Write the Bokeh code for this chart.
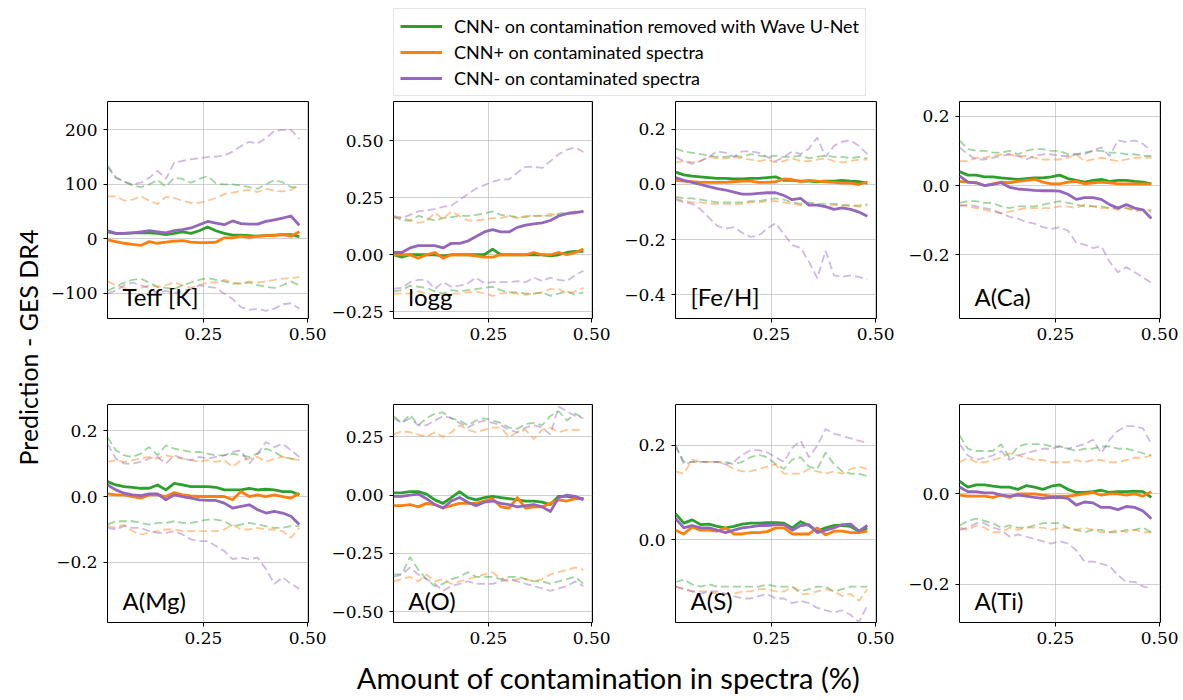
import math
from bokeh.plotting import figure
from bokeh.layouts import column, row
from bokeh.models import (Range1d, FixedTicker, CustomJSTickFormatter, Label,
                          Legend, LegendItem)
from bokeh.core.properties import value
from bokeh.embed import file_html
from bokeh.resources import INLINE

# ---------------- data ----------------
X = [0.02, 0.04, 0.06, 0.08, 0.10, 0.12, 0.14, 0.16, 0.18, 0.20, 0.22, 0.24,
     0.26, 0.28, 0.30, 0.32, 0.34, 0.36, 0.38, 0.40, 0.42, 0.44, 0.46, 0.48]

PANEL_NAMES = ["Teff [K]", "logg", "[Fe/H]", "A(Ca)", "A(Mg)", "A(O)", "A(S)", "A(Ti)"]
LEGEND_LABELS = ["CNN- on contamination removed with Wave U-Net",
                 "CNN+ on contaminated spectra",
                 "CNN- on contaminated spectra"]

# Teff
TEFF_G = [13,10,10,11,11,11,10,8,10,13,10,15,22,15,10,7,7,6,5,6,7,8,8,4]
TEFF_O = [-2,-5,-8,-10,-12,-5,-8,-6,-4,-3,-6,-7,-7,-6,2,2,5,3,5,6,6,8,5,13]
TEFF_P = [15,10,10,11,13,15,13,11,15,17,20,26,32,29,26,33,28,27,27,32,35,38,42,25]
TEFF_G_HI = [132,112,105,98,95,100,108,96,112,110,103,110,115,102,100,100,98,95,92,100,108,104,95,95]
TEFF_O_HI = [78,78,70,72,78,70,64,77,75,70,66,66,70,75,82,85,88,90,86,92,88,87,90,98]
TEFF_P_HI = [135,113,105,100,103,112,125,110,140,143,146,148,150,151,153,160,170,178,175,185,198,200,200,183]
TEFF_G_LO = [-95,-88,-80,-75,-73,-80,-88,-90,-92,-85,-80,-75,-72,-75,-78,-82,-82,-80,-85,-88,-90,-85,-78,-85]
TEFF_O_LO = [-78,-85,-90,-95,-90,-85,-88,-85,-80,-85,-90,-85,-80,-80,-75,-80,-82,-78,-80,-78,-75,-73,-72,-70]
TEFF_P_LO = [-100,-95,-85,-80,-85,-90,-100,-95,-100,-95,-92,-85,-88,-90,-100,-110,-125,-130,-128,-132,-128,-120,-118,-128]

# logg
LOGG_G = [0.0,-0.01,0.0,0.0,0.0,0.0,-0.005,0.0,0.0,0.0,0.0,0.0,0.025,0.0,0.0,0.0,0.0,0.0,0.0,-0.005,0.0,0.01,0.015,0.015]
LOGG_O = [0.0,0.0,0.0,-0.015,0.0,0.01,-0.015,0.0,0.0,0.0,-0.005,-0.01,-0.01,0.0,0.0,0.0,0.0,0.01,0.0,0.0,0.01,0.0,0.01,0.025]
LOGG_P = [0.01,0.01,0.03,0.04,0.04,0.04,0.03,0.05,0.05,0.06,0.08,0.10,0.11,0.10,0.10,0.12,0.13,0.135,0.14,0.15,0.17,0.18,0.185,0.19]
LOGG_G_HI = [0.17,0.15,0.15,0.17,0.16,0.15,0.16,0.165,0.17,0.17,0.175,0.18,0.19,0.175,0.17,0.165,0.165,0.17,0.17,0.17,0.18,0.185,0.19,0.19]
LOGG_O_HI = [0.16,0.165,0.15,0.14,0.145,0.185,0.155,0.19,0.17,0.15,0.15,0.155,0.16,0.16,0.17,0.16,0.17,0.17,0.17,0.18,0.17,0.18,0.18,0.19]
LOGG_P_HI = [0.17,0.16,0.175,0.19,0.195,0.20,0.21,0.215,0.24,0.265,0.29,0.305,0.32,0.33,0.33,0.36,0.385,0.385,0.38,0.41,0.44,0.46,0.47,0.45]
LOGG_G_LO = [-0.16,-0.155,-0.135,-0.14,-0.145,-0.16,-0.17,-0.155,-0.16,-0.155,-0.15,-0.145,-0.14,-0.155,-0.165,-0.165,-0.17,-0.17,-0.165,-0.18,-0.17,-0.16,-0.175,-0.165]
LOGG_O_LO = [-0.17,-0.17,-0.17,-0.16,-0.17,-0.18,-0.175,-0.17,-0.17,-0.165,-0.16,-0.17,-0.18,-0.17,-0.165,-0.17,-0.175,-0.17,-0.165,-0.15,-0.15,-0.17,-0.16,-0.145]
LOGG_P_LO = [-0.148,-0.145,-0.12,-0.11,-0.11,-0.15,-0.12,-0.14,-0.135,-0.125,-0.10,-0.125,-0.12,-0.12,-0.12,-0.115,-0.12,-0.10,-0.115,-0.10,-0.11,-0.115,-0.09,-0.07]

# [Fe/H]
FEH_G = [0.045,0.035,0.03,0.028,0.025,0.022,0.022,0.02,0.02,0.022,0.022,0.025,0.028,0.015,0.015,0.012,0.012,0.01,0.012,0.012,0.015,0.012,0.01,0.005]
FEH_O = [0.015,0.012,0.01,0.008,0.008,0.008,0.008,0.01,0.012,0.012,0.008,0.008,0.01,0.02,0.018,0.01,0.015,0.012,0.01,0.008,0.005,0.005,0.0,0.01]
FEH_P = [0.025,0.015,0.008,0.0,-0.008,-0.015,-0.02,-0.028,-0.035,-0.035,-0.032,-0.03,-0.03,-0.04,-0.055,-0.05,-0.075,-0.075,-0.08,-0.09,-0.085,-0.09,-0.1,-0.115]
FEH_G_HI = [0.13,0.12,0.115,0.11,0.105,0.10,0.10,0.105,0.10,0.11,0.105,0.10,0.105,0.10,0.10,0.105,0.095,0.10,0.105,0.10,0.10,0.095,0.10,0.095]
FEH_O_HI = [0.08,0.085,0.08,0.085,0.10,0.095,0.095,0.10,0.095,0.09,0.085,0.09,0.08,0.085,0.095,0.085,0.085,0.09,0.095,0.085,0.08,0.085,0.09,0.09]
FEH_P_HI = [0.10,0.085,0.075,0.085,0.10,0.12,0.115,0.10,0.12,0.12,0.115,0.10,0.085,0.10,0.12,0.11,0.13,0.17,0.10,0.14,0.155,0.16,0.14,0.11]
FEH_G_LO = [-0.045,-0.05,-0.05,-0.055,-0.06,-0.065,-0.065,-0.065,-0.065,-0.06,-0.06,-0.055,-0.05,-0.055,-0.065,-0.07,-0.065,-0.07,-0.07,-0.07,-0.075,-0.075,-0.08,-0.075]
FEH_O_LO = [-0.05,-0.06,-0.065,-0.065,-0.07,-0.07,-0.07,-0.07,-0.07,-0.065,-0.065,-0.06,-0.06,-0.065,-0.07,-0.075,-0.07,-0.075,-0.08,-0.075,-0.075,-0.08,-0.075,-0.07]
FEH_P_LO = [-0.055,-0.065,-0.07,-0.09,-0.12,-0.15,-0.16,-0.155,-0.175,-0.19,-0.185,-0.16,-0.14,-0.18,-0.22,-0.23,-0.28,-0.34,-0.24,-0.33,-0.335,-0.33,-0.335,-0.345]

# A(Ca)
CA_G = [0.04,0.03,0.03,0.025,0.025,0.022,0.02,0.018,0.02,0.022,0.022,0.025,0.03,0.02,0.015,0.01,0.015,0.018,0.012,0.015,0.015,0.012,0.01,0.005]
CA_O = [0.012,0.01,0.008,0.0,0.005,0.01,0.008,0.012,0.015,0.018,0.01,0.005,0.005,0.01,0.012,0.005,0.008,0.01,0.008,0.005,0.005,0.005,0.005,0.005]
CA_P = [0.028,0.01,0.008,0.0,0.003,0.008,-0.005,-0.01,-0.012,-0.014,-0.015,-0.015,-0.016,-0.025,-0.04,-0.035,-0.035,-0.04,-0.055,-0.065,-0.055,-0.065,-0.07,-0.095]
CA_G_HI = [0.13,0.105,0.10,0.10,0.095,0.095,0.10,0.09,0.10,0.105,0.105,0.10,0.10,0.09,0.09,0.095,0.10,0.10,0.095,0.095,0.09,0.09,0.085,0.085]
CA_O_HI = [0.07,0.07,0.08,0.08,0.085,0.09,0.09,0.085,0.085,0.08,0.075,0.075,0.075,0.08,0.09,0.07,0.075,0.08,0.075,0.07,0.075,0.08,0.08,0.08]
CA_P_HI = [0.11,0.09,0.075,0.075,0.08,0.085,0.09,0.085,0.075,0.085,0.09,0.09,0.085,0.085,0.09,0.09,0.10,0.11,0.085,0.13,0.125,0.13,0.12,0.10]
CA_G_LO = [-0.05,-0.045,-0.045,-0.05,-0.05,-0.06,-0.065,-0.06,-0.06,-0.06,-0.055,-0.05,-0.045,-0.05,-0.055,-0.06,-0.06,-0.06,-0.065,-0.065,-0.065,-0.07,-0.07,-0.075]
CA_O_LO = [-0.055,-0.06,-0.065,-0.07,-0.075,-0.08,-0.075,-0.07,-0.065,-0.065,-0.065,-0.065,-0.06,-0.06,-0.065,-0.055,-0.06,-0.065,-0.065,-0.07,-0.065,-0.075,-0.07,-0.07]
CA_P_LO = [-0.06,-0.055,-0.06,-0.065,-0.07,-0.08,-0.09,-0.095,-0.105,-0.11,-0.12,-0.125,-0.12,-0.13,-0.165,-0.17,-0.18,-0.175,-0.22,-0.25,-0.235,-0.25,-0.265,-0.28]

# A(Mg)
MG_G = [0.045,0.035,0.03,0.028,0.025,0.025,0.035,0.02,0.04,0.035,0.03,0.03,0.03,0.028,0.02,0.02,0.02,0.025,0.02,0.022,0.02,0.015,0.015,0.005]
MG_O = [0.008,0.005,0.005,0.0,-0.005,0.005,0.005,0.0,0.012,0.005,0.002,0.0,0.0,0.0,0.0,-0.01,0.015,0.0,0.005,0.0,0.005,0.0,-0.005,0.01]
MG_P = [0.035,0.02,0.01,0.005,0.003,0.008,0.008,-0.01,0.005,0.0,-0.005,-0.01,-0.012,-0.012,-0.02,-0.035,-0.03,-0.025,-0.04,-0.05,-0.045,-0.05,-0.06,-0.085]
MG_G_HI = [0.18,0.14,0.125,0.12,0.13,0.15,0.125,0.155,0.145,0.14,0.135,0.135,0.13,0.125,0.125,0.13,0.125,0.12,0.13,0.145,0.135,0.12,0.115,0.11]
MG_O_HI = [0.105,0.11,0.105,0.11,0.115,0.12,0.115,0.125,0.12,0.115,0.11,0.105,0.11,0.105,0.11,0.09,0.11,0.115,0.12,0.105,0.115,0.12,0.115,0.11]
MG_P_HI = [0.16,0.115,0.10,0.10,0.105,0.115,0.12,0.10,0.125,0.115,0.11,0.12,0.115,0.12,0.125,0.135,0.14,0.10,0.13,0.165,0.15,0.16,0.14,0.12]
MG_G_LO = [-0.085,-0.075,-0.075,-0.075,-0.08,-0.085,-0.08,-0.08,-0.075,-0.08,-0.08,-0.075,-0.07,-0.07,-0.075,-0.09,-0.085,-0.08,-0.085,-0.09,-0.095,-0.095,-0.09,-0.09]
MG_O_LO = [-0.09,-0.095,-0.085,-0.105,-0.115,-0.11,-0.105,-0.10,-0.10,-0.105,-0.105,-0.105,-0.105,-0.105,-0.10,-0.085,-0.10,-0.10,-0.095,-0.10,-0.10,-0.105,-0.125,-0.095]
MG_P_LO = [-0.095,-0.10,-0.09,-0.095,-0.095,-0.105,-0.11,-0.11,-0.105,-0.115,-0.13,-0.135,-0.135,-0.15,-0.165,-0.19,-0.185,-0.19,-0.185,-0.22,-0.265,-0.245,-0.265,-0.28]

# A(O)
O_G = [0.01,0.01,0.015,0.015,0.005,-0.02,-0.035,-0.01,0.015,-0.01,-0.02,-0.01,-0.005,-0.01,-0.015,-0.02,-0.025,-0.025,-0.03,-0.04,-0.005,-0.005,-0.01,-0.015]
O_O = [-0.045,-0.045,-0.04,-0.05,-0.035,-0.04,-0.055,-0.045,-0.035,-0.035,-0.035,-0.025,-0.015,-0.05,-0.055,-0.01,-0.055,-0.05,-0.05,-0.035,-0.02,-0.025,-0.015,-0.015]
O_P = [-0.005,-0.005,0.0,0.005,-0.015,-0.04,-0.055,-0.025,-0.01,-0.03,-0.045,-0.03,-0.025,-0.035,-0.04,-0.05,-0.045,-0.04,-0.05,-0.07,-0.01,0.0,-0.005,-0.02]
O_G_HI = [0.34,0.31,0.345,0.30,0.33,0.35,0.355,0.33,0.32,0.30,0.32,0.33,0.32,0.31,0.29,0.285,0.305,0.31,0.30,0.34,0.36,0.32,0.35,0.33]
O_O_HI = [0.26,0.275,0.27,0.26,0.25,0.27,0.25,0.27,0.30,0.28,0.27,0.28,0.29,0.29,0.25,0.27,0.28,0.24,0.28,0.29,0.27,0.28,0.28,0.28]
O_P_HI = [0.33,0.31,0.33,0.30,0.30,0.32,0.34,0.33,0.31,0.29,0.31,0.32,0.31,0.30,0.28,0.27,0.29,0.30,0.29,0.26,0.38,0.36,0.34,0.33]
O_G_LO = [-0.34,-0.34,-0.265,-0.32,-0.36,-0.39,-0.38,-0.36,-0.35,-0.33,-0.35,-0.35,-0.35,-0.36,-0.35,-0.35,-0.36,-0.37,-0.37,-0.38,-0.37,-0.36,-0.35,-0.38]
O_O_LO = [-0.37,-0.36,-0.35,-0.37,-0.34,-0.37,-0.36,-0.38,-0.37,-0.36,-0.35,-0.34,-0.33,-0.36,-0.37,-0.36,-0.36,-0.37,-0.36,-0.34,-0.33,-0.32,-0.31,-0.32]
O_P_LO = [-0.35,-0.34,-0.31,-0.34,-0.36,-0.38,-0.41,-0.39,-0.38,-0.37,-0.38,-0.38,-0.38,-0.37,-0.36,-0.37,-0.38,-0.39,-0.40,-0.41,-0.40,-0.39,-0.37,-0.39]

# A(S)
S_G = [0.055,0.035,0.042,0.032,0.033,0.028,0.025,0.028,0.033,0.035,0.035,0.036,0.036,0.035,0.025,0.038,0.03,0.018,0.025,0.03,0.03,0.028,0.018,0.025]
S_O = [0.02,0.012,0.027,0.02,0.02,0.018,0.025,0.012,0.012,0.015,0.015,0.017,0.025,0.025,0.012,0.012,0.012,0.025,0.01,0.018,0.018,0.015,0.015,0.018]
S_P = [0.045,0.025,0.03,0.025,0.025,0.02,0.015,0.02,0.025,0.027,0.03,0.03,0.032,0.032,0.02,0.03,0.032,0.015,0.02,0.025,0.032,0.033,0.018,0.03]
S_G_HI = [0.20,0.165,0.165,0.165,0.165,0.165,0.165,0.16,0.165,0.175,0.18,0.175,0.16,0.15,0.17,0.175,0.155,0.15,0.185,0.16,0.145,0.14,0.14,0.135]
S_O_HI = [0.145,0.14,0.17,0.165,0.165,0.165,0.16,0.15,0.145,0.145,0.15,0.155,0.16,0.14,0.14,0.14,0.15,0.145,0.14,0.145,0.14,0.15,0.155,0.15]
S_P_HI = [0.20,0.16,0.165,0.165,0.165,0.165,0.16,0.165,0.18,0.19,0.19,0.185,0.175,0.165,0.195,0.21,0.175,0.20,0.235,0.225,0.22,0.215,0.21,0.205]
S_G_LO = [-0.09,-0.085,-0.095,-0.10,-0.095,-0.10,-0.10,-0.10,-0.10,-0.10,-0.10,-0.095,-0.10,-0.10,-0.10,-0.11,-0.105,-0.10,-0.10,-0.11,-0.105,-0.10,-0.10,-0.10]
S_O_LO = [-0.10,-0.105,-0.11,-0.11,-0.11,-0.115,-0.115,-0.115,-0.11,-0.11,-0.105,-0.105,-0.11,-0.11,-0.10,-0.115,-0.115,-0.11,-0.105,-0.11,-0.12,-0.115,-0.13,-0.105]
S_P_LO = [-0.10,-0.105,-0.11,-0.115,-0.11,-0.11,-0.115,-0.12,-0.125,-0.125,-0.12,-0.115,-0.125,-0.125,-0.135,-0.13,-0.135,-0.145,-0.15,-0.155,-0.15,-0.16,-0.175,-0.14]

# A(Ti)
TI_G = [0.028,0.015,0.02,0.02,0.017,0.015,0.015,0.01,0.018,0.015,0.01,0.017,0.02,0.01,0.003,0.003,0.005,0.008,0.003,0.005,0.005,0.006,0.005,-0.008]
TI_O = [-0.003,-0.005,-0.005,-0.005,-0.008,-0.003,-0.008,0.0,0.0,0.0,-0.003,-0.005,-0.005,-0.005,-0.003,0.0,0.003,-0.003,0.0,0.0,-0.003,0.0,-0.005,0.005]
TI_P = [0.015,0.005,0.005,0.002,0.002,-0.003,-0.005,-0.003,-0.005,-0.008,-0.01,-0.008,-0.008,-0.01,-0.025,-0.018,-0.02,-0.03,-0.03,-0.035,-0.028,-0.03,-0.038,-0.055]
TI_G_HI = [0.13,0.10,0.095,0.095,0.095,0.11,0.08,0.105,0.11,0.11,0.11,0.105,0.105,0.10,0.095,0.10,0.10,0.105,0.105,0.10,0.10,0.095,0.09,0.085]
TI_O_HI = [0.07,0.08,0.07,0.07,0.075,0.08,0.09,0.085,0.08,0.075,0.075,0.07,0.07,0.07,0.075,0.07,0.075,0.075,0.07,0.07,0.075,0.08,0.08,0.085]
TI_P_HI = [0.11,0.085,0.075,0.08,0.085,0.095,0.075,0.085,0.09,0.095,0.10,0.10,0.105,0.10,0.105,0.11,0.12,0.09,0.12,0.14,0.15,0.15,0.145,0.11]
TI_G_LO = [-0.07,-0.06,-0.055,-0.06,-0.065,-0.075,-0.07,-0.075,-0.075,-0.07,-0.065,-0.065,-0.065,-0.075,-0.08,-0.085,-0.08,-0.08,-0.085,-0.085,-0.08,-0.08,-0.075,-0.085]
TI_O_LO = [-0.075,-0.08,-0.07,-0.075,-0.085,-0.085,-0.075,-0.08,-0.075,-0.075,-0.075,-0.08,-0.075,-0.075,-0.08,-0.075,-0.08,-0.085,-0.085,-0.08,-0.085,-0.08,-0.085,-0.085]
TI_P_LO = [-0.08,-0.075,-0.065,-0.065,-0.075,-0.08,-0.095,-0.09,-0.095,-0.10,-0.105,-0.11,-0.105,-0.11,-0.125,-0.15,-0.15,-0.155,-0.16,-0.18,-0.195,-0.195,-0.205,-0.21]

# axis settings per panel
Y_LIMITS = [(-146, 252), (-0.279, 0.671), (-0.486, 0.301), (-0.383, 0.242),
            (-0.382, 0.279), (-0.546, 0.389), (-0.176, 0.287), (-0.285, 0.198)]
Y_TICKS = [[-100, 0, 100, 200], [-0.25, 0, 0.25, 0.5], [-0.4, -0.2, 0, 0.2], [-0.2, 0, 0.2],
           [-0.2, 0, 0.2], [-0.5, -0.25, 0, 0.25], [0, 0.2], [-0.2, 0]]
Y_DECIMALS = [0, 2, 1, 1, 1, 2, 1, 1]
X_TICKS = [0.25, 0.5]

PANELS = [
    (TEFF_G, TEFF_O, TEFF_P, TEFF_G_HI, TEFF_O_HI, TEFF_P_HI, TEFF_G_LO, TEFF_O_LO, TEFF_P_LO),
    (LOGG_G, LOGG_O, LOGG_P, LOGG_G_HI, LOGG_O_HI, LOGG_P_HI, LOGG_G_LO, LOGG_O_LO, LOGG_P_LO),
    (FEH_G, FEH_O, FEH_P, FEH_G_HI, FEH_O_HI, FEH_P_HI, FEH_G_LO, FEH_O_LO, FEH_P_LO),
    (CA_G, CA_O, CA_P, CA_G_HI, CA_O_HI, CA_P_HI, CA_G_LO, CA_O_LO, CA_P_LO),
    (MG_G, MG_O, MG_P, MG_G_HI, MG_O_HI, MG_P_HI, MG_G_LO, MG_O_LO, MG_P_LO),
    (O_G, O_O, O_P, O_G_HI, O_O_HI, O_P_HI, O_G_LO, O_O_LO, O_P_LO),
    (S_G, S_O, S_P, S_G_HI, S_O_HI, S_P_HI, S_G_LO, S_O_LO, S_P_LO),
    (TI_G, TI_O, TI_P, TI_G_HI, TI_O_HI, TI_P_HI, TI_G_LO, TI_O_LO, TI_P_LO),
]

COLORS = ["#2ca02c", "#ff7f0e", "#9467bd"]

TICK_FONT = "DejaVu Serif"
SANS = "Lato"

X_START, X_END = 0.02, 0.502
BL, BR = 63, 20
FRAME_W = 201


def make_panel(i):
    top_row = i < 4
    h = 290 if top_row else 270
    bt = 1 if top_row else 14
    bb = 72 if top_row else 38
    lo, hi = Y_LIMITS[i]
    p = figure(width=BL + FRAME_W + BR, height=h,
               x_range=Range1d(X_START, X_END), y_range=Range1d(lo, hi),
               output_backend="svg", toolbar_location=None,
               min_border_left=BL, min_border_right=BR,
               min_border_top=bt, min_border_bottom=bb)
    p.outline_line_color = "black"
    p.outline_line_width = 1
    p.background_fill_color = "white"
    p.border_fill_color = "white"

    p.xaxis.ticker = FixedTicker(ticks=X_TICKS)
    p.yaxis.ticker = FixedTicker(ticks=Y_TICKS[i])
    p.xaxis.formatter = CustomJSTickFormatter(
        args=dict(d=2), code="return tick.toFixed(d).replace('-', '\u2212');")
    p.yaxis.formatter = CustomJSTickFormatter(
        args=dict(d=Y_DECIMALS[i]), code="return tick.toFixed(d).replace('-', '\u2212');")
    for ax in (p.xaxis[0], p.yaxis[0]):
        ax.axis_line_color = None
        ax.major_tick_line_color = "black"
        ax.major_tick_line_width = 1
        ax.major_tick_out = 4
        ax.major_tick_in = 0
        ax.minor_tick_line_color = None
        ax.major_label_text_font = TICK_FONT
        ax.major_label_text_font_size = "17px"
        ax.major_label_text_color = "black"
    p.xaxis.major_label_standoff = 5
    p.yaxis.major_label_standoff = 6

    p.grid.grid_line_color = "#b0b0b0"
    p.grid.grid_line_alpha = 0.6
    p.grid.grid_line_width = 1

    series = PANELS[i]
    mids, his, los = series[0:3], series[3:6], series[6:9]
    for k in range(3):
        for band in (his[k], los[k]):
            p.line(X[:len(band)], band, line_color=COLORS[k], line_alpha=0.45,
                   line_width=1.8, line_dash="8 4")
    for k in range(3):
        p.line(X[:len(mids[k])], mids[k], line_color=COLORS[k], line_width=2.8,
               line_join="round")

    xs = X_START + 15.0 / FRAME_W * (X_END - X_START)
    frame_h = h - bt - bb
    ys = lo + 22.0 / frame_h * (hi - lo)
    p.add_layout(Label(x=xs, y=ys, text=PANEL_NAMES[i], text_font=SANS,
                       text_font_size="24px", text_color="black",
                       text_baseline="alphabetic", text_align="left"))
    return p


panels = [make_panel(i) for i in range(8)]

TOTAL_W = 44 + 4 * (BL + FRAME_W + BR)

# legend strip
top = figure(width=TOTAL_W, height=100, x_range=Range1d(0, TOTAL_W), y_range=Range1d(0, 100),
             output_backend="svg", toolbar_location=None, x_axis_type=None, y_axis_type=None,
             min_border=0)
top.outline_line_color = None
top.grid.visible = False
items = []
for k in range(3):
    r = top.line([-50, -40], [-50, -50], line_color=COLORS[k], line_width=2.8)
    items.append(LegendItem(label=LEGEND_LABELS[k], renderers=[r]))
legend = Legend(items=items, location=(393, 4), label_text_font=SANS,
                label_text_font_size="18px", label_text_color="black",
                glyph_width=42, glyph_height=20,
                label_height=20, spacing=4, padding=6, label_standoff=12, margin=0,
                border_line_color="#cccccc", border_line_width=1,
                background_fill_color="white", background_fill_alpha=1)
top.add_layout(legend, "center")

# y label strip
ylab = figure(width=44, height=560, x_range=Range1d(0, 44), y_range=Range1d(0, 560),
              output_backend="svg", toolbar_location=None, x_axis_type=None, y_axis_type=None,
              min_border=0)
ylab.outline_line_color = None
ylab.grid.visible = False
ylab.text(x=[27], y=[313], text=["Prediction - GES DR4"], angle=math.pi / 2,
          text_align="center", text_baseline="middle", text_font=value(SANS),
          text_font_size="25px", text_color="black")

# x label strip
xlab = figure(width=TOTAL_W, height=40, x_range=Range1d(0, TOTAL_W), y_range=Range1d(0, 40),
              output_backend="svg", toolbar_location=None, x_axis_type=None, y_axis_type=None,
              min_border=0)
xlab.outline_line_color = None
xlab.grid.visible = False
xlab.text(x=[608], y=[23], text=["Amount of contamination in spectra (%)"],
          text_align="center", text_baseline="middle", text_font=value(SANS),
          text_font_size="29px", text_color="black")

grid = column(row(*panels[:4]), row(*panels[4:]))
layout = column(top, row(ylab, grid), xlab)

open("out.html", "w").write(file_html(layout, INLINE))
